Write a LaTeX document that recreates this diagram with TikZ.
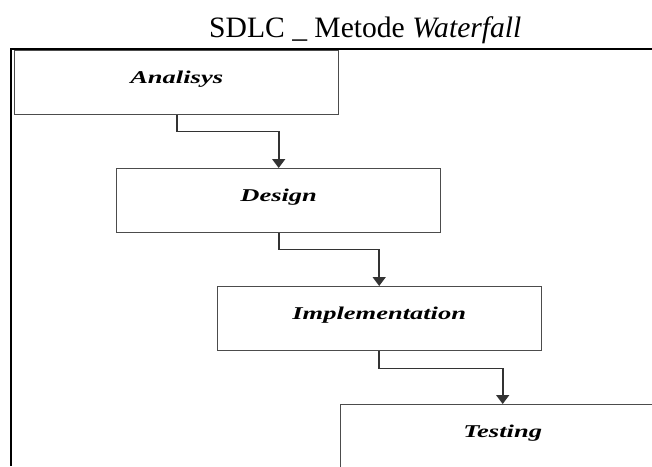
\documentclass[tikz,border=0pt]{standalone}
\usepackage{fontspec}
\setmainfont{Liberation Serif}
\usetikzlibrary{arrows.meta}
\newcommand{\boxlabel}[1]{\scalebox{1}[0.68]{\fontsize{26.5pt}{30pt}\selectfont\bfseries\itshape #1}}
\begin{document}
\begin{tikzpicture}[x=1pt,y=-1pt,
  stage/.style={draw=black!70, line width=1.4pt, fill=white, minimum width=324pt,
    minimum height=64pt, inner sep=0pt, anchor=north west, text height=7pt, text depth=5pt},
  conn/.style={draw=black!80, line width=1.6pt, -{Triangle[width=13pt,length=9pt]}},
  frameline/.style={draw=black, line width=2pt}]
\useasboundingbox (0,0) rectangle (652,466);
\clip (0,0) rectangle (652,466);
\fill[white] (0,0) rectangle (652,466);
% title
\node[anchor=base west, inner sep=0pt, font=\fontsize{29.6pt}{34pt}\selectfont] (title) at (209,37)
  {SDLC \_ Metode \textit{Waterfall}};
% outer frame
\coordinate (fl) at (11,466);
\coordinate (ftl) at (11,49);
\coordinate (fr) at (652,49);
\draw[frameline] (fl) -- (ftl) -- (fr);
% stages
\node[stage] (an) at (14,50) {\boxlabel{Analisys}};
\node[stage] (de) at (116,168) {\boxlabel{Design}};
\node[stage] (im) at (216.5,286) {\boxlabel{Implementation}};
\node[stage] (te) at (340,404) {\boxlabel{Testing}};
% connectors
\draw[conn] (an.south) -- ++(0,16) -| (de.north);
\draw[conn] (de.south) -- ++(0,16) -| (im.north);
\draw[conn] (im.south) -- ++(0,17) -| (te.north);
\end{tikzpicture}
\end{document}
